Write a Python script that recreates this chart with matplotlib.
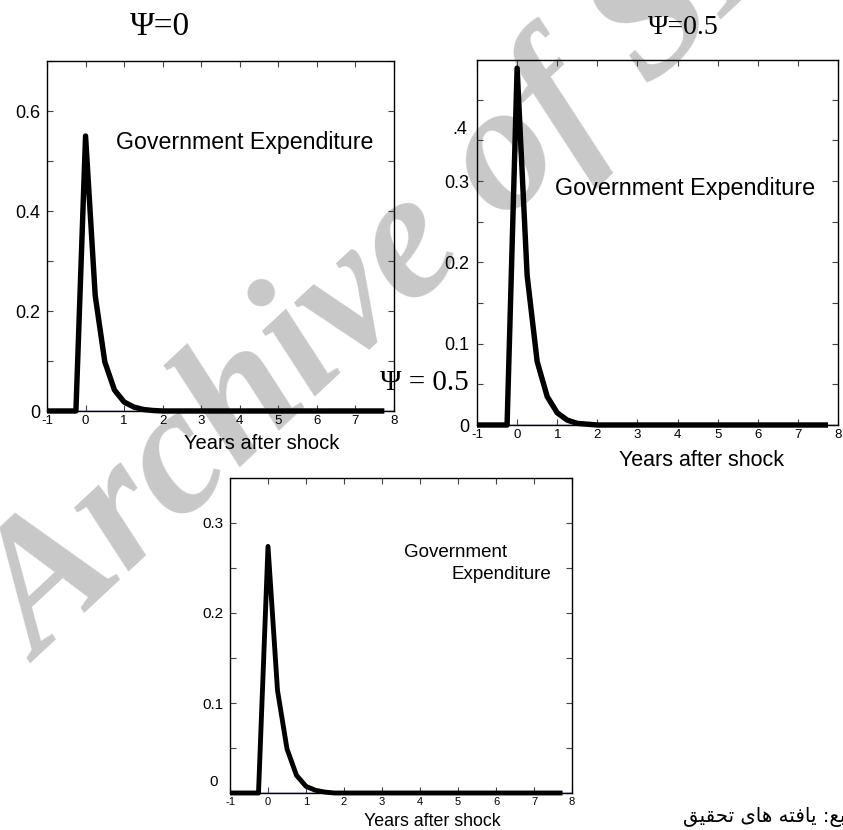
import numpy as np
import matplotlib
matplotlib.use('Agg')
import matplotlib.pyplot as plt
from matplotlib.ticker import MultipleLocator

plt.rcParams['font.family'] = ['Liberation Sans', 'DejaVu Sans']

# quarters: -1 .. 7.75 years after the shock
years = np.arange(-1, 8, 0.25)

# response of government expenditure
gov_psi0 = [0, 0, 0, 0, 0.55, 0.231, 0.098, 0.042, 0.018, 0.008, 0.003, 0.001,
            0, 0, 0, 0, 0, 0, 0, 0, 0, 0, 0, 0,
            0, 0, 0, 0, 0, 0, 0, 0, 0, 0, 0, 0]
gov_psi05 = [0, 0, 0, 0, 0.439, 0.184, 0.078, 0.035, 0.015, 0.006, 0.002, 0.001,
             0, 0, 0, 0, 0, 0, 0, 0, 0, 0, 0, 0,
             0, 0, 0, 0, 0, 0, 0, 0, 0, 0, 0, 0]
gov_third = [0, 0, 0, 0, 0.274, 0.114, 0.049, 0.0196, 0.0074, 0.003, 0.001, 0,
             0, 0, 0, 0, 0, 0, 0, 0, 0, 0, 0, 0,
             0, 0, 0, 0, 0, 0, 0, 0, 0, 0, 0, 0]

xticks = [-1, 0, 1, 2, 3, 4, 5, 6, 7, 8]
xtick_labels = ['-1', '0', '1', '2', '3', '4', '5', '6', '7', '8']

W, H = 843, 830
fig = plt.figure(figsize=(W / 100, H / 100), dpi=100)


def px_rect(left, top, right, bottom):
    # pixel box -> figure fraction
    return [left / W, 1 - bottom / H, (right - left) / W, (bottom - top) / H]


def setup(ax, values, ytop, lw, zero_color, xsize, ysize, ypad):
    ax.set_facecolor('none')
    ax.axhline(0, color=zero_color, lw=1.0, zorder=1)
    ax.plot(years, values, color='black', lw=lw, solid_capstyle='butt',
            solid_joinstyle='round', clip_on=False, zorder=3)
    ax.set_xlim(-1, 8)
    ax.set_ylim(0, ytop)
    ax.set_xticks(xticks)
    ax.set_xticklabels(xtick_labels, fontsize=xsize)
    ax.tick_params(axis='both', which='both', direction='in', top=True,
                   right=True, color='#444444', width=0.8, length=4)
    ax.tick_params(axis='x', pad=3)
    ax.tick_params(axis='y', pad=ypad, labelsize=ysize)
    for s in ax.spines.values():
        s.set_linewidth(1.0)
        s.set_color('black')


# watermark behind everything
fig.text(40 / W, 1 - 663 / H, 'Archive of SID', rotation=43, rotation_mode='anchor',
         ha='left', va='baseline', fontsize=132, family='Liberation Serif',
         weight='bold', style='italic', color='#c8c8c8', zorder=-5)

# panel 1: Psi = 0
ax1 = fig.add_axes(px_rect(47, 61, 394, 411))
setup(ax1, gov_psi0, 0.7, 3.9, 'blue', 9.5, 13, 5)
ax1.set_yticks([0, 0.2, 0.4, 0.6])
ax1.set_yticklabels(['0', '0.2', '0.4', '0.6'])
ax1.yaxis.set_minor_locator(MultipleLocator(0.1))
ax1.text(0.79, 0.536, 'Government Expenditure', fontsize=16.7, ha='left', va='center')
ax1.text(0.618, -0.094, 'Years after shock', fontsize=14.5, ha='center', va='center',
         transform=ax1.transAxes)

# panel 2: Psi = 0.5
ax2 = fig.add_axes(px_rect(477, 60, 838, 425))
setup(ax2, gov_psi05, 0.449, 3.9, '#000080', 9.5, 13, 5.5)
ax2.set_yticks([0, 0.1, 0.2, 0.3])
ax2.set_yticklabels(['0', '0.1', '0.2', '0.3'])
ax2.yaxis.set_minor_locator(MultipleLocator(0.05))
ax2.text(-0.028, 0.363, '.4', fontsize=13, ha='right', va='center',
         transform=ax2.get_yaxis_transform())
ax2.text(0.945, 0.2915, 'Government Expenditure', fontsize=16.8, ha='left', va='center')
ax2.text(0.622, -0.096, 'Years after shock', fontsize=15.5, ha='center', va='center',
         transform=ax2.transAxes)

# panel 3
ax3 = fig.add_axes(px_rect(230, 478, 572, 793))
setup(ax3, gov_third, 0.35, 3.5, 'blue', 8, 11, 5)
ax3.set_yticks([0, 0.1, 0.2, 0.3])
ax3.set_yticklabels(['', '0.1', '0.2', '0.3'])
ax3.yaxis.set_minor_locator(MultipleLocator(0.05))
ax3.text(-0.035, 0.012, '0', fontsize=11, ha='right', va='center',
         transform=ax3.get_yaxis_transform())
ax3.text(3.58, 0.2674, 'Government', fontsize=13.5, ha='left', va='center')
ax3.text(4.84, 0.243, 'Expenditure', fontsize=13.5, ha='left', va='center')
ax3.text(0.591, -0.092, 'Years after shock', fontsize=12.8, ha='center', va='center',
         transform=ax3.transAxes)

# titles (serif, as in the document)
fig.text(160 / W, 1 - 27 / H, '\u03a8=0', fontsize=24, family='Liberation Serif',
         ha='center', va='center')
fig.text(683 / W, 1 - 28 / H, '\u03a8=0.5', fontsize=20, family='Liberation Serif',
         ha='center', va='center')
fig.text(424 / W, 1 - 383 / H, '\u03a8 = 0.5', fontsize=21, family='Liberation Serif',
         ha='center', va='center')

# source note (Persian, shaped by hand; the first word runs off the page)
source = '\uFED6\uFEF4\uFED8\uFEA4\uFE97 \uFEEF\uFE8E\uFEEB \uFEEA\uFE98\uFED3\uFE8E\uFEF3 :\uFECA\uFE92\uFEE8\uFEE3'
fig.text(683 / W, 1 - 817 / H, source, fontsize=14.2, family='DejaVu Sans',
         ha='left', va='center')

fig.savefig('out.png', dpi=100)
